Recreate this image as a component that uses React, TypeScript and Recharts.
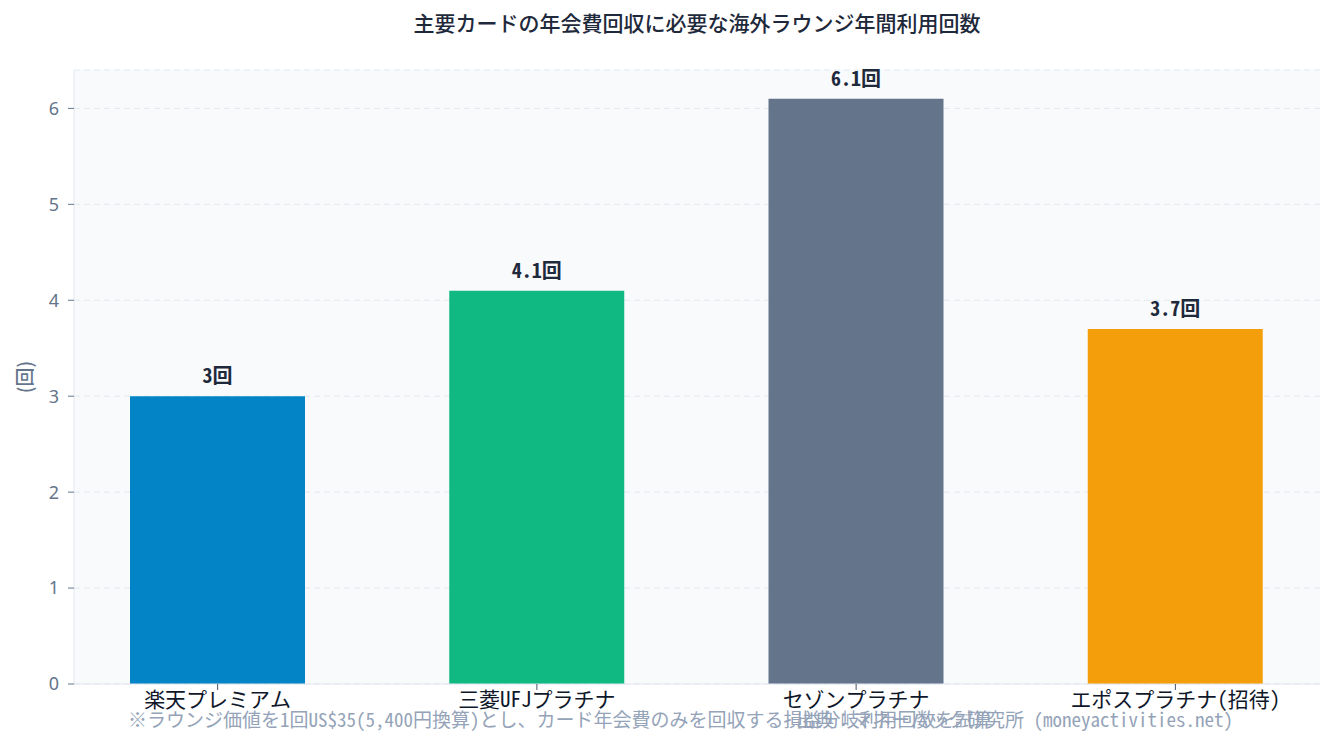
import React from 'react';
import {
  BarChart,
  Bar,
  XAxis,
  YAxis,
  CartesianGrid,
  Cell,
  LabelList,
} from 'recharts';

const CARDS = ['楽天プレミアム', '三菱UFJプラチナ', 'セゾンプラチナ', 'エポスプラチナ(招待)'];
const VISITS = [3, 4.1, 6.1, 3.7];
const COLORS = ['#0284c7', '#10b981', '#64748b', '#f59e0b'];
const Y_TICKS = [0, 1, 2, 3, 4, 5, 6];

const TITLE = '主要カードの年会費回収に必要な海外ラウンジ年間利用回数';
const NOTE = '※ラウンジ価値を1回US$35(5,400円換算)とし、カード年会費のみを回収する損益分岐利用回数を試算';
const SOURCE = '出典：マネーハック研究所 (moneyactivities.net)';

const MONO = '"Noto Sans Mono CJK JP", "Noto Sans CJK JP", "DejaVu Sans Mono", monospace';
const SANS = '"Noto Sans CJK JP", "Noto Sans", sans-serif';

const data = CARDS.map((name, i) => ({ name, value: VISITS[i] }));

export default function App() {
  return (
    <div style={{ position: 'absolute', left: 0, top: 0, width: 1335, height: 744, background: '#fff' }}>
      <BarChart
        width={1335}
        height={744}
        data={data}
        margin={{ top: 70, right: 15, left: 0, bottom: 30 }}
      >
        <text x={697} y={25} textAnchor="middle" dominantBaseline="middle"
          style={{ fontFamily: SANS, fontSize: 21, fontWeight: 500, fill: '#1e293b' }}>
          {TITLE}
        </text>
        <CartesianGrid fill="#f8fafc" stroke="#e2e8f0" strokeDasharray="6 4" vertical={false} />
        <XAxis
          dataKey="name"
          padding={{ left: -16, right: -15 }}
          axisLine={{ stroke: '#e2e8f0' }}
          tickLine={{ stroke: '#475569' }}
          tickSize={6}
          tick={{ fill: '#0f172a', fontSize: 21, fontFamily: MONO }}
          interval={0}
        />
        <XAxis xAxisId="top" orientation="top" dataKey="name" height={0} tick={false} tickLine={false}
          axisLine={{ stroke: '#e2e8f0', strokeDasharray: '0' }} />
        <YAxis
          width={74}
          domain={[0, 6.4]}
          ticks={Y_TICKS}
          axisLine={{ stroke: '#e2e8f0' }}
          tickLine={{ stroke: '#64748b' }}
          tickSize={6}
          tickMargin={9}
          tick={{ fill: '#64748b', fontSize: 18, fontFamily: '"Noto Sans", sans-serif' }}
          label={{ value: '(回)', angle: -90, position: 'insideLeft', offset: 25,
            style: { fill: '#64748b', fontSize: 19, fontWeight: 500, fontFamily: SANS, textAnchor: 'middle' } }}
        />
        <YAxis yAxisId="right" orientation="right" width={0} domain={[0, 6.4]} tick={false} tickLine={false}
          axisLine={{ stroke: '#e2e8f0' }} />
        <Bar dataKey="value" barSize={175} isAnimationActive={false}>
          {data.map((d, i) => (
            <Cell key={d.name} fill={COLORS[i]} />
          ))}
          <LabelList dataKey="value" position="top" offset={13} formatter={(v: number) => `${v}回`}
            style={{ fill: '#1e293b', fontSize: 20, fontWeight: 700, fontFamily: MONO }} />
        </Bar>
        <text x={128} y={722} dominantBaseline="middle"
          style={{ fontFamily: MONO, fontSize: 19, fill: '#94a3b8' }}>
          {NOTE}
        </text>
        <text x={1233} y={722} textAnchor="end" dominantBaseline="middle"
          style={{ fontFamily: MONO, fontSize: 19, fill: '#94a3b8' }}>
          {SOURCE}
        </text>
      </BarChart>
    </div>
  );
}
